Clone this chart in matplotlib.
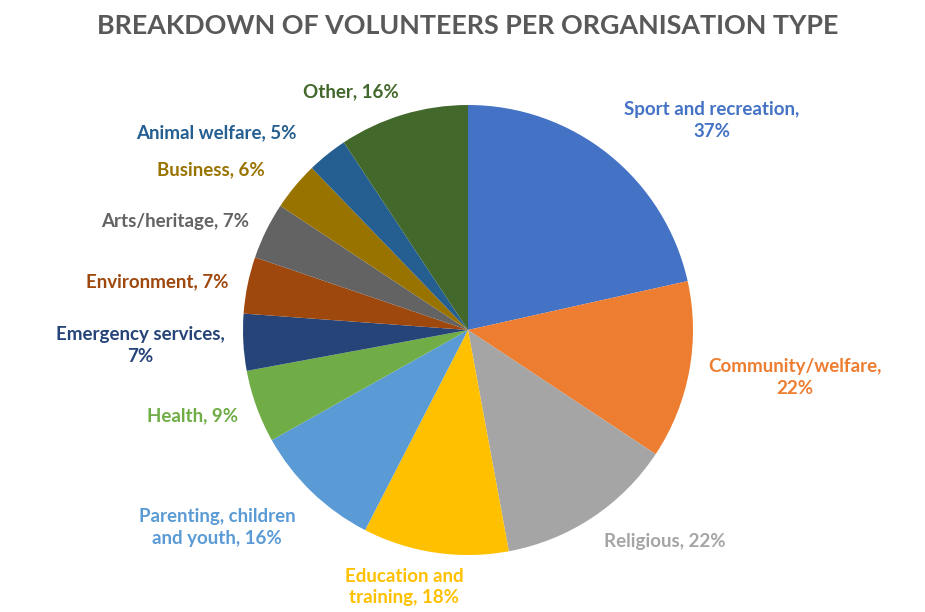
import matplotlib.pyplot as plt

categories = ['Sport and recreation', 'Community/welfare', 'Religious', 'Education and training',
              'Parenting, children and youth', 'Health', 'Emergency services', 'Environment',
              'Arts/heritage', 'Business', 'Animal welfare', 'Other']
values = [37, 22, 22, 18, 16, 9, 7, 7, 7, 6, 5, 16]
label_texts = ['Sport and recreation,\n37%', 'Community/welfare,\n22%', 'Religious, 22%',
               'Education and\ntraining, 18%', 'Parenting, children\nand youth, 16%', 'Health, 9%',
               'Emergency services,\n7%', 'Environment, 7%', 'Arts/heritage, 7%', 'Business, 6%',
               'Animal welfare, 5%', 'Other, 16%']

colors = ['#4472C4', '#ED7D31', '#A5A5A5', '#FFC000', '#5B9BD5', '#70AD47',
          '#264478', '#9E480E', '#636363', '#997300', '#255E91', '#43682B']
# label placement in pie-radius units (layout only)
label_pos = [(1.084, 0.933), (1.453, -0.213), (0.876, -0.942), (-0.284, -1.142),
             (-1.116, -0.876), (-1.222, -0.382), (-1.458, -0.067), (-1.382, 0.213),
             (-1.302, 0.484), (-1.142, 0.711), (-1.12, 0.876), (-0.52, 1.058)]

fig = plt.figure(figsize=(9.25, 6.12), dpi=100)
fig.set_facecolor('white')
ax = fig.add_axes([(468 - 225) / 925, (612 - 555) / 612, 450 / 925, 450 / 612])

ax.pie(values, colors=colors, startangle=90, counterclock=False,
       wedgeprops=dict(linewidth=0))
ax.set_xlim(-1, 1)
ax.set_ylim(-1, 1)
ax.set_aspect('equal')
ax.axis('off')

for txt, (x, y), c in zip(label_texts, label_pos, colors):
    ax.text(x, y, txt, color=c, ha='center', va='center', fontsize=13.5,
            fontweight='bold', family='Lato', linespacing=1.35, clip_on=False)

fig.text(468 / 925, 1 - 26 / 612, 'BREAKDOWN OF VOLUNTEERS PER ORGANISATION TYPE',
         ha='center', va='center', fontsize=19.4, fontweight='bold', family='Lato',
         color='#595959')

fig.savefig('out.png', dpi=100, facecolor='white')
